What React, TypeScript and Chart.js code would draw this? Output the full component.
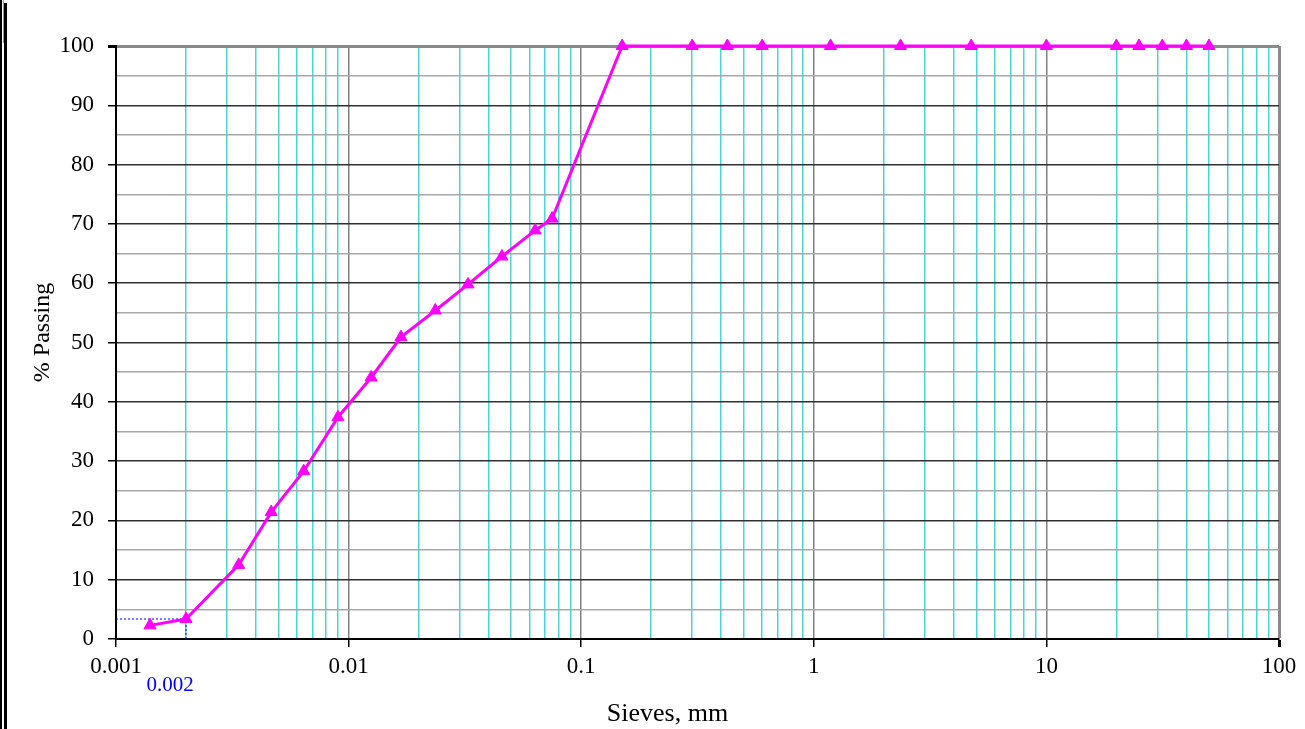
import React, { useEffect, useRef } from "react";
import { Chart, registerables } from "chart.js";

Chart.register(...registerables);

// Grain size (mm) and % passing
const sieveSizes = [
  0.0014, 0.002, 0.00337, 0.00465, 0.00641, 0.009, 0.0125, 0.0168, 0.0236,
  0.0326, 0.0456, 0.0634, 0.075, 0.15, 0.3, 0.425, 0.6, 1.18, 2.36, 4.75, 10,
  20, 25, 31.5, 40, 50,
];
const percentPassing = [
  2.3, 3.37, 12.5, 21.4, 28.3, 37.4, 44.1, 50.9, 55.4, 59.8, 64.5, 68.9, 70.9,
  100, 100, 100, 100, 100, 100, 100, 100, 100, 100, 100, 100, 100,
];
// Guide at 0.002 mm
const guideX = [0.001, 0.002, 0.002];
const guideY = [3.37, 3.37, 0];
const guideLabel = "0.002";

const xDecadeLabels = ["0.001", "0.01", "0.1", "1", "10", "100"];
const yTickLabels = ["0", "10", "20", "30", "40", "50", "60", "70", "80", "90", "100"];
const xTitle = "Sieves, mm";
const yTitle = "% Passing";

const FONT = "'Liberation Serif', 'Times New Roman', serif";

function isDecade(v: number) {
  const l = Math.log10(v);
  return Math.abs(l - Math.round(l)) < 1e-9;
}

export default function App() {
  const canvasRef = useRef<HTMLCanvasElement | null>(null);

  useEffect(() => {
    const canvas = canvasRef.current;
    if (!canvas) return;

    const titlesPlugin = {
      id: "titles",
      afterDraw(chart: any) {
        const ctx = chart.ctx;
        const ca = chart.chartArea;
        const xs = chart.scales.x;
        ctx.save();
        ctx.fillStyle = "#000";
        ctx.textAlign = "center";
        ctx.textBaseline = "middle";
        ctx.font = `26px ${FONT}`;
        ctx.fillText(xTitle, (ca.left + ca.right) / 2 - 30, ca.bottom + 75);
        ctx.font = `24px ${FONT}`;
        ctx.save();
        ctx.translate(43, (ca.top + ca.bottom) / 2 - 10);
        ctx.rotate(-Math.PI / 2);
        ctx.fillText(yTitle, 0, 0);
        ctx.restore();
        ctx.fillStyle = "#0000ff";
        ctx.font = `21px ${FONT}`;
        ctx.fillText(guideLabel, xs.getPixelForValue(0.002) - 16, ca.bottom + 46);
        ctx.restore();
      },
    };

    const chart = new Chart(canvas, {
      type: "line",
      data: {
        datasets: [
          {
            data: sieveSizes.map((x, i) => ({ x, y: percentPassing[i] })),
            borderColor: "#ff00ff",
            backgroundColor: "#ff00ff",
            borderWidth: 3,
            pointStyle: "triangle",
            pointRadius: 7,
            pointBorderWidth: 1,
            tension: 0,
            clip: false as any,
          },
          {
            data: guideX.map((x, i) => ({ x, y: guideY[i] })),
            borderColor: "#0000ff",
            borderWidth: 1,
            borderDash: [2, 2],
            pointRadius: 0,
            tension: 0,
          },
        ],
      },
      options: {
        animation: false,
        responsive: false,
        devicePixelRatio: 1,
        layout: { padding: { left: 0, top: 46, right: 26, bottom: 0 } },
        plugins: {
          legend: { display: false },
          tooltip: { enabled: false },
          title: { display: false },
        },
        scales: {
          x: {
            type: "logarithmic",
            min: 0.001,
            max: 100,
            afterBuildTicks(scale: any) {
              const t: any[] = [];
              for (let e = -3; e <= 1; e++) {
                for (let m = 1; m <= 9; m++) t.push({ value: m * Math.pow(10, e) });
              }
              t.push({ value: 100 });
              scale.ticks = t;
            },
            afterFit(scale: any) {
              scale.height = 90;
            },
            ticks: {
              autoSkip: false,
              maxRotation: 0,
              padding: 6,
              color: "#000",
              font: { family: FONT, size: 23 },
              callback(value: any) {
                const v = Number(value);
                if (!isDecade(v)) return "";
                const idx = Math.round(Math.log10(v)) + 3;
                return xDecadeLabels[idx] ?? "";
              },
            },
            grid: {
              drawTicks: true,
              tickLength: 8,
              color(ctx: any) {
                const v = ctx.tick ? ctx.tick.value : 0;
                if (Math.abs(v - 100) < 1e-6) return "#8a8a8a";
                if (isDecade(v)) return "#808080";
                return "#4fd4d4";
              },
              lineWidth(ctx: any) {
                const v = ctx.tick ? ctx.tick.value : 0;
                if (Math.abs(v - 100) < 1e-6) return 3;
                return 1.5;
              },
              tickColor(ctx: any) {
                const v = ctx.tick ? ctx.tick.value : 0;
                return isDecade(v) ? "#000" : "rgba(0,0,0,0)";
              },
            },
            border: { display: true, color: "#000", width: 2 },
          },
          y: {
            type: "linear",
            min: 0,
            max: 100,
            afterFit(scale: any) {
              scale.width = 116;
            },
            ticks: {
              stepSize: 5,
              autoSkip: false,
              padding: 14,
              color: "#000",
              font: { family: FONT, size: 23 },
              callback(value: any) {
                const v = Number(value);
                if (v % 10 !== 0) return "";
                return yTickLabels[v / 10];
              },
            },
            grid: {
              drawTicks: true,
              tickLength: 8,
              color(ctx: any) {
                const v = ctx.tick ? ctx.tick.value : 0;
                if (v === 100) return "#8a8a8a";
                if (v % 10 === 0) return "#303030";
                return "#a8a8a8";
              },
              lineWidth(ctx: any) {
                const v = ctx.tick ? ctx.tick.value : 0;
                if (v === 100) return 3;
                return 1.5;
              },
              tickColor(ctx: any) {
                const v = ctx.tick ? ctx.tick.value : 0;
                return v % 10 === 0 ? "#000" : "rgba(0,0,0,0)";
              },
            },
            border: { display: true, color: "#000", width: 2 },
          },
        },
      } as any,
      plugins: [titlesPlugin],
    });

    return () => chart.destroy();
  }, []);

  return (
    <div
      style={{
        position: "fixed",
        left: 0,
        top: 0,
        width: 1305,
        height: 729,
        background: "#fff",
        overflow: "hidden",
      }}
    >
      <canvas
        ref={canvasRef}
        width={1305}
        height={729}
        style={{ position: "absolute", left: 0, top: 0, width: 1305, height: 729 }}
      />
      <div style={{ position: "absolute", left: 0, top: 0, width: 2, height: 729, background: "#000" }} />
      <div style={{ position: "absolute", left: 3, top: 0, width: 1, height: 43, background: "#999" }} />
      <div style={{ position: "absolute", left: 4, top: 3, width: 3, height: 726, background: "#000" }} />
    </div>
  );
}
